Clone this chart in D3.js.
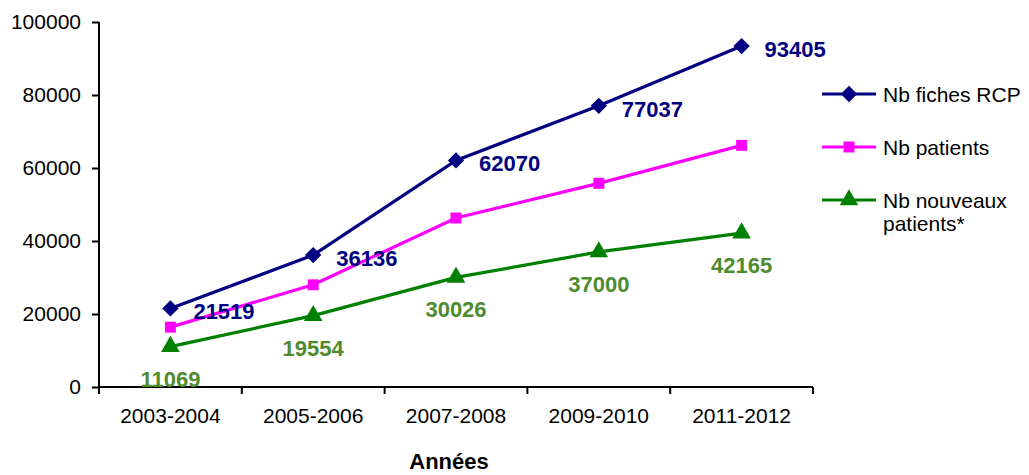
<!DOCTYPE html>
<html><head><meta charset="utf-8">
<script src="https://cdn.jsdelivr.net/npm/d3@7"></script>
<style>body{margin:0;background:#fff}svg{display:block}</style>
</head><body>
<svg id="c" width="1029" height="475"></svg>
<script>
const categories = ["2003-2004","2005-2006","2007-2008","2009-2010","2011-2012"];
const fichesRCP = [21519, 36136, 62070, 77037, 93405];
const patients = [16400, 28000, 46300, 55800, 66200];
const nouveauxPatients = [11069, 19554, 30026, 37000, 42165];
const yTicks = [0, 20000, 40000, 60000, 80000, 100000];
const seriesNames = ["Nb fiches RCP", "Nb patients", "Nb nouveaux patients*"];

const svg = d3.select("#c");
const font = "Arial, 'Liberation Sans', sans-serif";
const x = d3.scaleBand().domain(categories).range([99, 813]);
const y = d3.scaleLinear().domain([0, 100000]).range([387, 22]);

// axes
const yAxis = svg.append("g").attr("transform","translate(99,0)")
  .call(d3.axisLeft(y).tickValues(yTicks).tickSize(7).tickPadding(11).tickFormat(d3.format("d")));
const xAxis = svg.append("g").attr("transform","translate(0,387)")
  .call(d3.axisBottom(x).tickSize(0).tickPadding(21));
[yAxis, xAxis].forEach(g=>{
  g.select(".domain").attr("stroke","#000").attr("stroke-width",2);
  g.selectAll(".tick line").attr("stroke","#000").attr("stroke-width",2);
  g.selectAll(".tick text").attr("fill","#000").style("font-family",font).style("font-size","21px");
});
yAxis.select(".domain").attr("d","M0,22V387");
xAxis.select(".domain").attr("d","M99,0H813");
// x boundary ticks
const bounds = categories.map(c=>x(c)).concat([x.range()[1]]);
xAxis.selectAll(".btick").data(bounds).enter().append("line")
  .attr("x1",d=>d).attr("x2",d=>d).attr("y1",0).attr("y2",7)
  .attr("stroke","#000").attr("stroke-width",2);

const cx = c => x(c) + x.bandwidth()/2;
const series = [
  {name: seriesNames[0], values: fichesRCP, color:"#000080", marker:"diamond"},
  {name: seriesNames[1], values: patients, color:"#FF00FF", marker:"square"},
  {name: seriesNames[2], values: nouveauxPatients, color:"#008000", marker:"triangle"}
];
const symbolFor = m => m==="diamond" ? d3.symbol().type(d3.symbolDiamond2).size(170)
  : m==="square" ? d3.symbol().type(d3.symbolSquare).size(120)
  : d3.symbol().type(d3.symbolTriangle).size(150);

const line = d3.line().x((d,i)=>cx(categories[i])).y(d=>y(d));
series.slice().reverse().forEach(s=>{
  svg.append("path").attr("d", line(s.values)).attr("fill","none")
    .attr("stroke", s.color).attr("stroke-width",3.2);
  svg.selectAll(null).data(s.values).enter().append("path")
    .attr("d", symbolFor(s.marker)())
    .attr("transform",(d,i)=>`translate(${cx(categories[i])},${y(d)})`)
    .attr("fill", s.color);
});

// data labels
svg.selectAll(null).data(fichesRCP).enter().append("text")
  .attr("x",(d,i)=>cx(categories[i])+23).attr("y",d=>y(d)+11)
  .text(d=>d).attr("fill","#000080").style("font-family",font)
  .style("font-size","22px").style("font-weight","bold");
svg.selectAll(null).data(nouveauxPatients).enter().append("text")
  .attr("x",(d,i)=>cx(categories[i])).attr("y",d=>y(d)+40)
  .attr("text-anchor","middle")
  .text(d=>d).attr("fill","#4E8B2E").style("font-family",font)
  .style("font-size","22px").style("font-weight","bold");

// legend
const legY = [94, 147, 200];
series.forEach((s,i)=>{
  const g = svg.append("g").attr("transform",`translate(0,${legY[i]})`);
  g.append("line").attr("x1",822).attr("x2",876).attr("stroke",s.color).attr("stroke-width",3.2);
  g.append("path").attr("d", symbolFor(s.marker)()).attr("transform","translate(849,0)").attr("fill",s.color);
  const t = g.append("text").attr("x",883).attr("y",8).attr("fill","#000")
    .style("font-family",font).style("font-size","21px");
  if (i===2) {
    t.append("tspan").attr("x",883).attr("dy",0).text("Nb nouveaux");
    t.append("tspan").attr("x",883).attr("dy",23).text("patients*");
  } else t.text(s.name);
});

svg.append("text").attr("x",449).attr("y",469).attr("text-anchor","middle")
  .text("Années").style("font-family",font).style("font-size","22px").style("font-weight","bold");
</script>
</body></html>
